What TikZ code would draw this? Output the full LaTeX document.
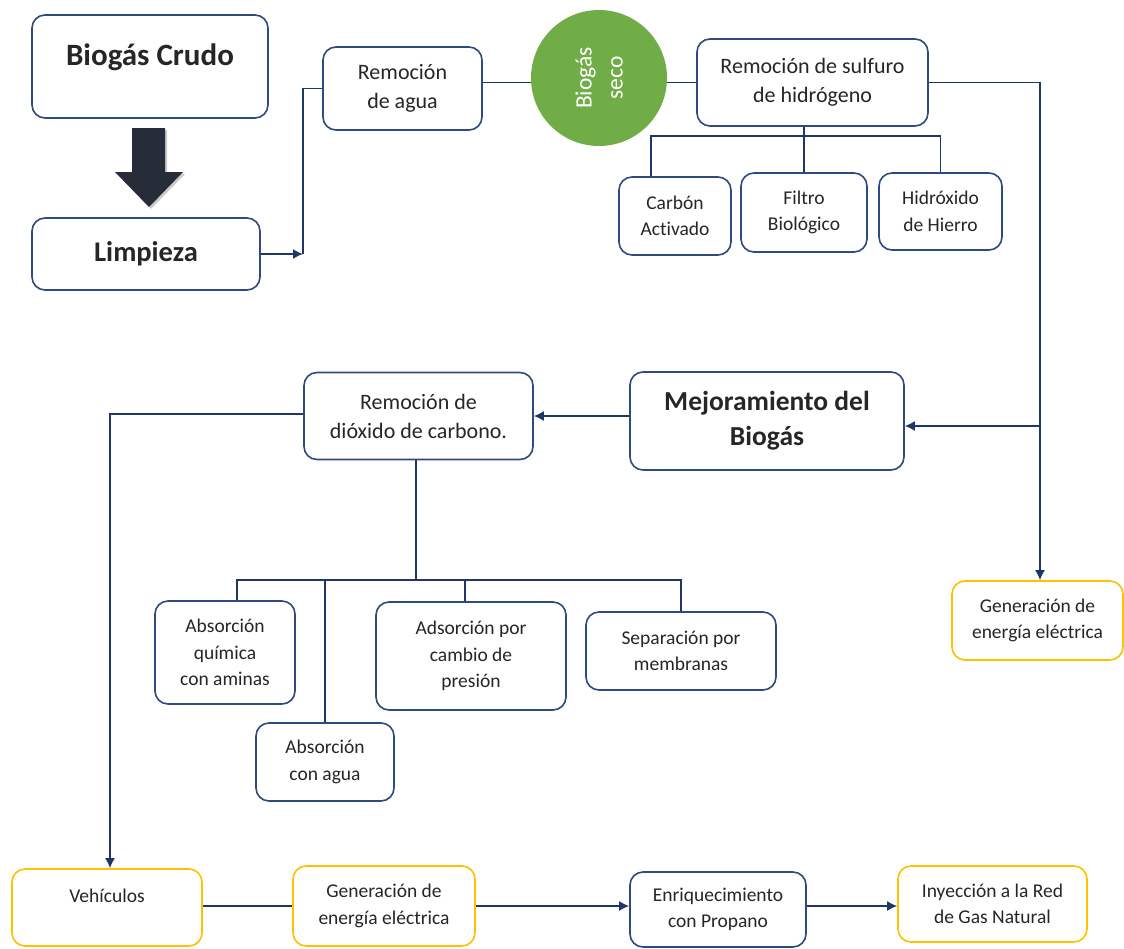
\documentclass[tikz,border=0pt]{standalone}
\usepackage{fontspec}
\setmainfont[Ligatures=NoCommon]{Carlito}
\usetikzlibrary{arrows.meta}
\definecolor{boxblue}{HTML}{2F4A80}
\definecolor{linenavy}{HTML}{1F3768}
\definecolor{gold}{HTML}{FFC000}
\definecolor{leaf}{HTML}{70AD47}
\definecolor{arrowdark}{HTML}{262C38}
\definecolor{ink}{HTML}{262626}
\begin{document}
\begin{tikzpicture}[x=1pt,y=-1pt,
  box/.style={draw=boxblue, line width=1.6pt, rounded corners=13pt, fill=white,
    align=center, inner sep=0pt, text=ink, font=\fontsize{19.5}{26.5}\selectfont},
  ybox/.style={box, draw=gold},
  wide/.style={font=\fontsize{22}{29}\selectfont},
  bigtxt/.style={font=\bfseries\fontsize{27.5}{35}\selectfont},
  conn/.style={draw=linenavy, line width=1.6pt},
  arr/.style={conn, -{Latex[length=10pt,width=10pt]}},
  sz/.style 2 args={minimum width=#1pt, minimum height=#2pt}
]
\useasboundingbox (0,0) rectangle (1124,948);

% ---- top row ----
\node[box, sz={236}{103},
  label={[font=\bfseries\fontsize{31}{35}\selectfont, text=ink, yshift=9.5pt]center:Biogás Crudo}]
  (crudo) at (150,66.5) {};
% soft shadow and body of the down arrow
\fill[arrowdark, opacity=0.25] (134,130) -- (167,130) -- (167,174) -- (185,174) -- (151,209)
  -- (117,174) -- (134,174) -- cycle;
\fill[arrowdark] (132,128) -- (165,128) -- (165,172) -- (183,172) -- (149,207)
  -- (115,172) -- (132,172) -- cycle;
\node[box, sz={228}{72}, font=\bfseries\fontsize{28.5}{35}\selectfont] (limp) at (146,254) {Limpieza};

\node[box, sz={159}{83}, wide] (agua) at (402.5,88.5) {Remoción\\de agua};
\node[circle, fill=leaf, minimum size=136pt, inner sep=0pt,
  label={[rotate=90, text=white, align=center, font=\fontsize{23.5}{31}\selectfont]center:{Biogás\\seco}}]
  (seco) at (599,78) {};
\node[box, sz={231}{87}, wide] (sulf) at (812.5,82.5) {Remoción de sulfuro\\de hidrógeno};

\node[box, sz={112}{78}] (carbon) at (675,216) {Carbón\\Activado};
\node[box, sz={126}{79}] (filtro) at (804,212.5) {Filtro\\Biológico};
\node[box, sz={123}{77}] (hidro) at (940.5,211.5) {Hidróxido\\de Hierro};

% ---- middle row ----
\node[box, sz={274}{98}, bigtxt] (mejor) at (767,421) {Mejoramiento del\\Biogás};
\node[box, sz={229}{87}, wide] (diox) at (418.5,416) {Remoción de\\dióxido de carbono.};
\node[ybox, sz={171}{79}] (genR) at (1037.5,620.5) {Generación de\\energía eléctrica};

\node[box, sz={140}{103}] (quim) at (225,652.5) {Absorción\\química\\con aminas};
\node[box, sz={138}{78}] (absag) at (325,762) {Absorción\\con agua};
\node[box, sz={190}{108}] (adsor) at (471,656) {Adsorción por\\cambio de\\presión};
\node[box, sz={190}{78}] (separ) at (681,651) {Separación por\\membranas};

% ---- bottom row ----
\node[ybox, sz={190}{77},
  label={[text=ink, font=\fontsize{19.5}{26.5}\selectfont, yshift=11.5pt]center:Vehículos}]
  (vehic) at (107,907.5) {};
\node[ybox, sz={182}{80}] (genB) at (384,906) {Generación de\\energía eléctrica};
\node[box, sz={176}{75}] (enriq) at (718,909.5) {Enriquecimiento\\con Propano};
\node[ybox, sz={189}{76}] (inyec) at (992.5,904) {Inyección a la Red\\de Gas Natural};

% ---- connectors ----
\coordinate (j1) at (303,253);
\coordinate (bus1) at (0,136);
\coordinate (bus2) at (0,580);
\coordinate (rv) at (1040,82.5);

\draw[arr] (limp.east) -- (limp.east -| j1);
\draw[conn] (limp.east -| j1) -- (j1 |- agua.west) -- (agua.west);
\draw[conn] ([yshift=6pt]agua.east) -- ([yshift=6pt]agua.east -| seco.west);
\draw[conn] (sulf.west -| seco.east) -- (sulf.west);

\draw[conn] (filtro.north |- sulf.south) -- (filtro.north);
\draw[conn] ([xshift=-24pt]carbon.north) |- (hidro.north |- bus1) -- (hidro.north);

\draw[arr] (sulf.east) -- (rv) -- (rv |- genR.north);
\draw[arr] (rv |- 0,426) -- (mejor.east |- 0,426);

\draw[arr] (diox.east -| mejor.west) -- (diox.east);
\draw[arr] ([yshift=2pt]diox.west) -| ([xshift=3pt]vehic.north);

\draw[conn] ([xshift=-2.5pt]diox.south) -- ([xshift=-2.5pt]diox.south |- bus2);
\draw[conn] ([xshift=12pt]quim.north) |- (separ.north |- bus2) -- (separ.north);
\draw[conn] (absag.north) -- (absag.north |- bus2);
\draw[conn] ([xshift=-6pt]adsor.north) -- ([xshift=-6pt]adsor.north |- bus2);

\draw[conn] (genB.west -| vehic.east) -- (genB.west);
\draw[arr] (genB.east) -- (genB.east -| enriq.west);
\draw[arr] (genB.east -| enriq.east) -- (genB.east -| inyec.west);
\end{tikzpicture}
\end{document}
